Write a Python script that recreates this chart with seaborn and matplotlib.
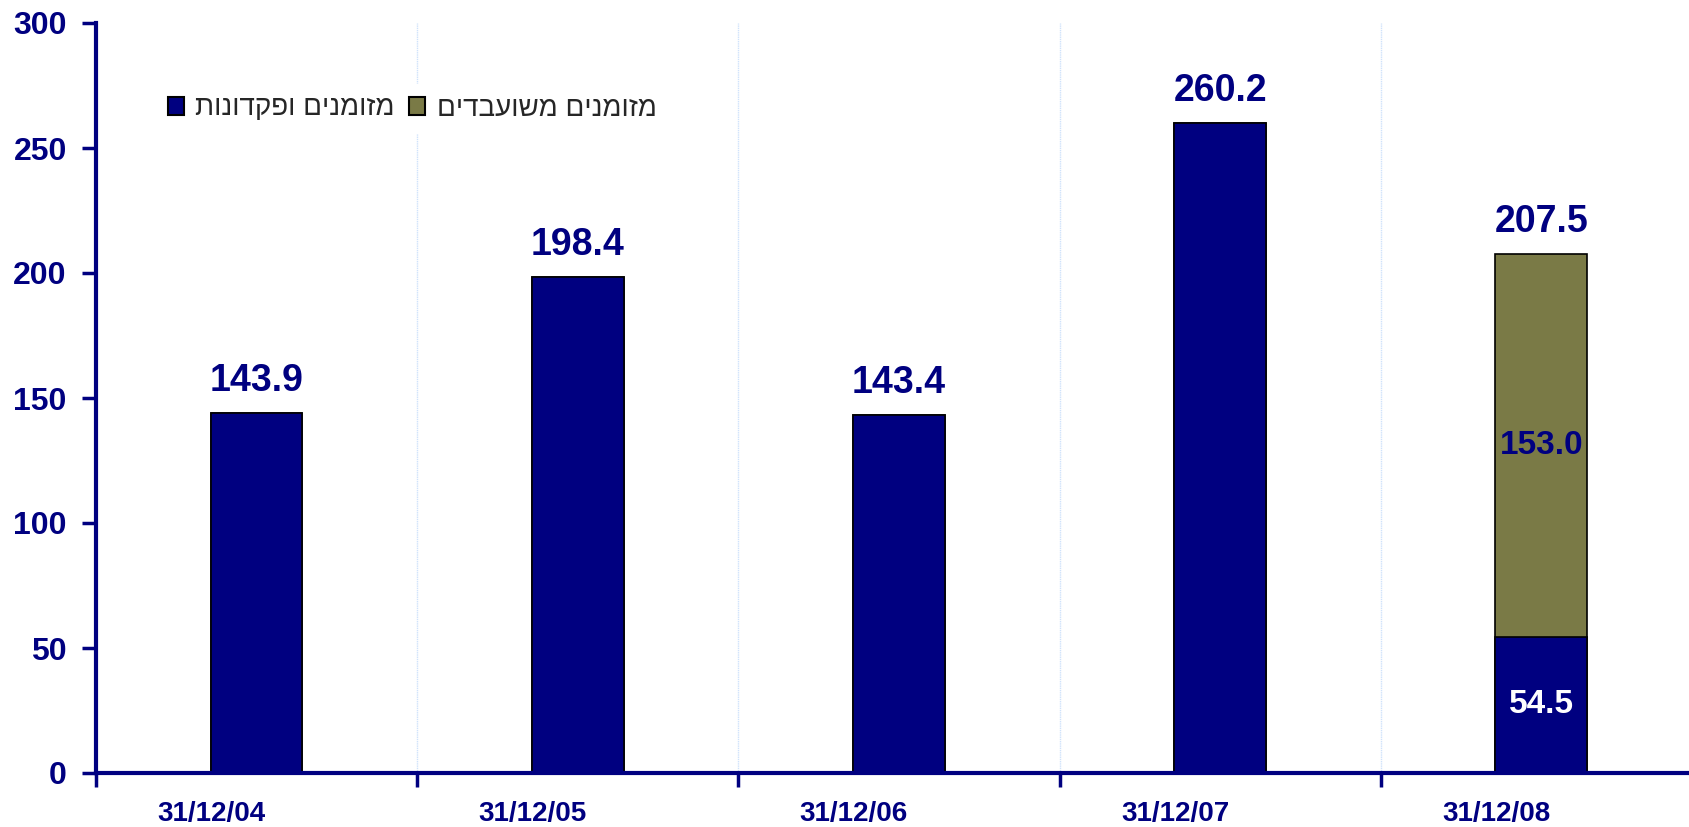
import numpy as np
import pandas as pd
import seaborn as sns
import matplotlib.pyplot as plt
from matplotlib.patches import Patch

dates = ['31/12/04', '31/12/05', '31/12/06', '31/12/07', '31/12/08']
deposits = [143.9, 198.4, 143.4, 260.2, 54.5]
pledged = [0, 0, 0, 0, 153.0]
label_deposits = 'מזומנים ופקדונות'
label_pledged = 'מזומנים משועבדים'

navy = '#000080'
olive = '#7a7a46'

sns.set_style('white')
plt.rcParams['font.family'] = ['Liberation Sans', 'DejaVu Sans']

df = pd.DataFrame({'date': dates, 'deposits': deposits, 'pledged': pledged})
df['total'] = df['deposits'] + df['pledged']

fig = plt.figure(figsize=(16.89, 8.27), dpi=100)
ax = fig.add_axes([96 / 1689, 1 - 773 / 827, 1 - 96 / 1689, 750 / 827])

# total first (olive), deposits drawn over it
sns.barplot(data=df, x='date', y='total', color=olive, width=0.285,
            edgecolor='black', linewidth=1.2, saturation=1, ax=ax)
sns.barplot(data=df, x='date', y='deposits', color=navy, width=0.285,
            edgecolor='black', linewidth=1.2, saturation=1, ax=ax)

ax.set_ylim(0, 300)
ax.set_xlim(-0.5, 4.46)
ax.set_yticks(range(0, 301, 50))
ax.set_xlabel('')
ax.set_ylabel('')

# date labels sit a bit left of the bars, like the original
pos = np.arange(len(dates))
ax.set_xticks(pos - 0.14, dates)

# boundaries between categories
bounds = pos - 0.5
for b in bounds[1:]:
    ax.axvline(b, color='#cfe2fb', lw=1, ls=(0, (1, 0.6)), zorder=0)
ax.set_xticks(bounds, minor=True)
ax.tick_params(axis='x', which='minor', bottom=True, length=10, width=2.5,
               color=navy, direction='out')
ax.tick_params(axis='x', which='major', bottom=False, length=0, pad=20,
               labelsize=20, labelcolor=navy)
ax.tick_params(axis='y', left=True, length=10, width=2.5, color=navy,
               labelsize=23, labelcolor=navy, pad=11)
for lab in ax.get_xticklabels() + ax.get_yticklabels():
    lab.set_fontweight('bold')

for s in ['top', 'right']:
    ax.spines[s].set_visible(False)
for s in ['left', 'bottom']:
    ax.spines[s].set_color(navy)
    ax.spines[s].set_linewidth(3)

# labels
for i, row in df.iterrows():
    ax.annotate(f"{row['total']:.1f}", (i, row['total']), xytext=(0, 10),
                textcoords='offset points', ha='center', va='bottom',
                fontsize=27, fontweight='bold', color=navy)
    if row['pledged'] > 0:
        ax.text(i, row['deposits'] + row['pledged'] / 2, f"{row['pledged']:.1f}",
                ha='center', va='center', fontsize=24, fontweight='bold', color=navy)
        ax.text(i, row['deposits'] / 2, f"{row['deposits']:.1f}",
                ha='center', va='center', fontsize=24, fontweight='bold', color='white')

handles = [Patch(facecolor=navy, edgecolor='black', lw=1.5),
           Patch(facecolor=olive, edgecolor='black', lw=1.5)]
leg = ax.legend(handles, [label_deposits[::-1], label_pledged[::-1]], ncol=2,
                loc='center left', bbox_to_anchor=(0.038, 0.886), frameon=True,
                fontsize=20, handlelength=0.6, handleheight=0.6, handletextpad=0.4,
                columnspacing=0.5, borderaxespad=0)
leg.get_frame().set_edgecolor('white')
leg.get_frame().set_facecolor('white')
leg.get_frame().set_alpha(1)

fig.savefig('out.png', dpi=100)
